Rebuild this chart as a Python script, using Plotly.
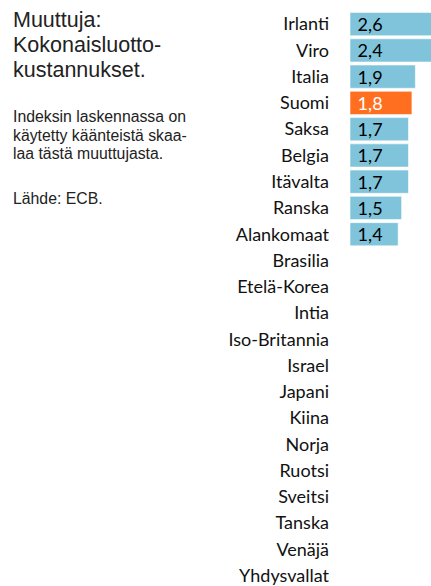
import plotly.graph_objects as go

# Countries in display order (top to bottom)
countries = [
    "Irlanti", "Viro", "Italia", "Suomi", "Saksa", "Belgia", "Itävalta",
    "Ranska", "Alankomaat", "Brasilia", "Etelä-Korea", "Intia",
    "Iso-Britannia", "Israel", "Japani", "Kiina", "Norja", "Ruotsi",
    "Sveitsi", "Tanska", "Venäjä", "Yhdysvallat",
]
# Total credit cost values (only euro-area countries have data)
values = [2.6, 2.4, 1.9, 1.8, 1.7, 1.7, 1.7, 1.5, 1.4]
highlight = "Suomi"

BLUE = "#7fc4da"
ORANGE = "#ff6f1f"

W, H = 431, 586
M_L, M_T, M_R, M_B = 350, 11, 0, 0
plot_w = W - M_L - M_R
plot_h = H - M_T - M_B
row_px = 26.4
n_visible = plot_h / row_px

bar_colors = [ORANGE if c == highlight else BLUE for c in countries[:len(values)]]
text_colors = ["white" if c == highlight else "black" for c in countries[:len(values)]]

fig = go.Figure()
fig.add_trace(go.Bar(
    x=values,
    y=countries[:len(values)],
    orientation="h",
    marker=dict(color=bar_colors, line=dict(color="rgba(255,255,255,0.55)", width=1)),
    texttemplate="\u00a0%{x:.1f}",
    textposition="inside",
    insidetextanchor="start",
    constraintext="none",
    textfont=dict(family="Lato", size=18, color=text_colors),
    cliponaxis=True,
    hoverinfo="skip",
))


def px_to_paper(px, py):
    return (px - M_L) / plot_w, 1 - (py - M_T) / plot_h


# Side note text, one annotation per line
side_lines = [
    ("Muuttuja:", 20.5, 21.5),
    ("Kokonaisluotto-", 45.5, 21.5),
    ("kustannukset.", 70.5, 21.5),
    ("Indeksin laskennassa on", 117.5, 15.8),
    ("käytetty käänteistä skaa-", 135.8, 15.8),
    ("laa tästä muuttujasta.", 154.1, 15.8),
    ("Lähde: ECB.", 199, 15.8),
]
annotations = []
for txt, cy, size in side_lines:
    ax, ay = px_to_paper(11, cy)
    annotations.append(dict(
        text=txt, x=ax, y=ay, xref="paper", yref="paper",
        xanchor="left", yanchor="middle", showarrow=False,
        font=dict(family="Liberation Sans, Arial", size=size, color="#222"),
    ))

fig.update_layout(
    width=W, height=H,
    margin=dict(l=M_L, r=M_R, t=M_T, b=M_B, pad=0),
    paper_bgcolor="white", plot_bgcolor="white",
    separators=", ",
    bargap=0.117,
    showlegend=False,
    annotations=annotations,
    xaxis=dict(range=[0, plot_w / 34.4], visible=False, fixedrange=True),
    yaxis=dict(
        type="category",
        categoryorder="array", categoryarray=countries,
        tickmode="array", tickvals=countries, ticktext=countries,
        range=[n_visible - 0.5, -0.5],
        showgrid=False, zeroline=False, showline=False, ticks="",
        ticklabelstandoff=20,
        tickfont=dict(family="Lato", size=18, color="#111"),
        fixedrange=True,
    ),
)

fig.write_html("out.html")
